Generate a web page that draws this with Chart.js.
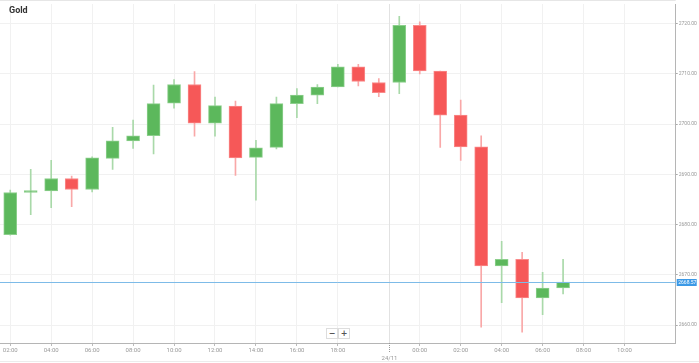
<!DOCTYPE html>
<html><head><meta charset="utf-8">
<script src="https://cdn.jsdelivr.net/npm/chart.js@4.4.1/dist/chart.umd.min.js"></script>
<style>
html,body{margin:0;padding:0;background:#fff;}
#wrap{position:relative;width:699px;height:363px;overflow:hidden;}
#title{position:absolute;left:9px;top:5px;font:bold 9px Roboto, sans-serif;color:#333;}
.zb{position:absolute;top:328px;width:10px;height:9px;border:1px solid #ddd;background:#fff;font:bold 8px/9px 'DejaVu Sans',sans-serif;color:#555;text-align:center;}
#bl{position:absolute;left:0;top:361px;width:699px;height:1px;background:#ececec;}
</style></head>
<body><div id="wrap"><canvas id="c" width="699" height="363"></canvas><div id="title">Gold</div><div class="zb" style="left:326px">−</div><div class="zb" style="left:338px">+</div><div id="bl"></div></div>
<script>
const categories = ["02:00","03:00","04:00","05:00","06:00","07:00","08:00","09:00","10:00","11:00","12:00","13:00","14:00","15:00","16:00","17:00","18:00","19:00","20:00","23:00","00:00","01:00","02:00","03:00","04:00","05:00","06:00","07:00","08:00","09:00","10:00","11:00","12:00"];
const opens  = [2678.0,2686.4,2686.7,2689.2,2687.0,2693.2,2696.7,2697.7,2704.2,2707.9,2700.2,2703.6,2693.4,2695.4,2704.1,2705.8,2707.4,2711.4,2708.3,2708.3,2719.7,2710.6,2701.8,2695.5,2671.8,2673.1,2665.4,2667.4];
const closes = [2686.4,2686.6,2689.2,2687.0,2693.3,2696.7,2697.7,2704.1,2707.9,2700.2,2703.7,2693.3,2695.3,2704.1,2705.8,2707.4,2711.4,2708.5,2706.3,2719.7,2710.6,2701.8,2695.5,2671.8,2673.1,2665.4,2667.4,2668.57];
const highs  = [2686.9,2691.0,2692.8,2689.7,2693.5,2699.4,2700.8,2707.8,2708.9,2710.5,2705.4,2704.6,2696.8,2705.4,2707.1,2707.9,2711.9,2711.9,2709.1,2721.5,2720.4,2710.6,2704.8,2697.7,2676.7,2674.5,2670.5,2673.1];
const lows   = [2677.9,2682.0,2683.4,2683.6,2686.5,2691.0,2695.2,2694.1,2703.2,2697.6,2697.6,2689.8,2684.9,2695.1,2701.3,2704.1,2707.4,2707.6,2705.5,2706.1,2710.0,2695.4,2692.8,2659.6,2664.5,2658.6,2662.1,2666.2];
const yTicks = [2660,2670,2680,2690,2700,2710,2720];
const lastPrice = 2668.57;
const sessionBreakAfter = 18;
const sessionLabel = "24/11";

const up = opens.map((o,i)=>closes[i]>=o);
const bodyFill = up.map(u=>u?'#5cb85c':'#f65858');
const bodyBorder = up.map(u=>u?'#8ccf8c':'#f98a8a');
const wickFill = up.map(u=>u?'#a9d9a9':'#f9a8a8');

function shownTick(i){
  const h = parseInt(categories[i]);
  return h % 2 === 0 && i !== sessionBreakAfter && i < categories.length - 1;
}

const overlay = {
  id:'overlay',
  beforeDatasetsDraw(chart){
    const {ctx, chartArea:a, scales:{x}} = chart;
    const bx = Math.round((x.getPixelForValue(sessionBreakAfter)+x.getPixelForValue(sessionBreakAfter+1))/2)+0.5;
    ctx.save();
    ctx.strokeStyle='#e2e2e2'; ctx.lineWidth=1;
    ctx.beginPath(); ctx.moveTo(bx,a.top); ctx.lineTo(bx,a.bottom); ctx.stroke();
    ctx.strokeStyle='#999'; ctx.setLineDash([1,1]);
    ctx.beginPath(); ctx.moveTo(bx,a.bottom); ctx.lineTo(bx,a.bottom+10); ctx.stroke();
    ctx.setLineDash([]);
    ctx.fillStyle='#999'; ctx.font='6px Roboto'; ctx.textAlign='center'; ctx.textBaseline='middle';
    ctx.fillText(sessionLabel,bx,358);
    ctx.strokeStyle='#e6e6e6';
    ctx.beginPath(); ctx.moveTo(a.left,0.5); ctx.lineTo(a.right,0.5); ctx.stroke();
    ctx.restore();
  },
  afterDatasetsDraw(chart){
    const {ctx, chartArea:a, scales:{y}} = chart;
    const py = Math.round(y.getPixelForValue(lastPrice))+0.5;
    ctx.save();
    ctx.strokeStyle='#7dbbe8'; ctx.lineWidth=1;
    ctx.beginPath(); ctx.moveTo(a.left,py); ctx.lineTo(a.right,py); ctx.stroke();
    ctx.fillStyle='#3b99e6';
    ctx.fillRect(a.right+1, py-3.5, 20, 7);
    ctx.fillStyle='#fff'; ctx.font='5px Roboto'; ctx.textAlign='left'; ctx.textBaseline='middle';
    ctx.fillText(lastPrice.toFixed(2), a.right+2.5, py);
    ctx.restore();
  }
};

new Chart(document.getElementById('c'), {
  type:'bar',
  data:{
    labels:categories,
    datasets:[
      {label:'wick', data:lows.map((l,i)=>[l,highs[i]]), backgroundColor:wickFill, barThickness:1, grouped:false, order:2, borderSkipped:false},
      {label:'body', data:opens.map((o,i)=>[o,closes[i]]), backgroundColor:bodyFill, borderColor:bodyBorder, borderWidth:1, barThickness:13, grouped:false, order:1, borderSkipped:false, minBarLength:2}
    ]
  },
  options:{
    responsive:false, animation:false, devicePixelRatio:1,
    layout:{padding:0},
    plugins:{legend:{display:false}, tooltip:{enabled:false}, title:{display:false}},
    scales:{
      x:{
        type:'category', offset:true,
        grid:{offset:false, color:c=>shownTick(c.index)?'#f1f1f1':'rgba(0,0,0,0)', tickColor:c=>shownTick(c.index)?'#bbb':'rgba(0,0,0,0)', tickLength:3},
        border:{color:'#b5b5b5'},
        ticks:{autoSkip:false, maxRotation:0, minRotation:0, padding:1, color:'#999', font:{size:6, family:'Roboto'},
          callback:(v,i)=>shownTick(i)?categories[i]:''},
        afterFit:s=>{s.height=20;}
      },
      y:{
        position:'right', min:2656.45, max:2723.93,
        afterBuildTicks:s=>{s.ticks=yTicks.map(v=>({value:v}));},
        grid:{color:'#f1f1f1', tickColor:'#aaa', tickLength:2},
        border:{color:'#b5b5b5'},
        ticks:{padding:1, color:'#999', font:{size:5, family:'Roboto'}, callback:v=>Number(v).toFixed(2)},
        afterFit:s=>{s.width=23.3;}
      }
    }
  },
  plugins:[overlay]
});
</script>
</body></html>
